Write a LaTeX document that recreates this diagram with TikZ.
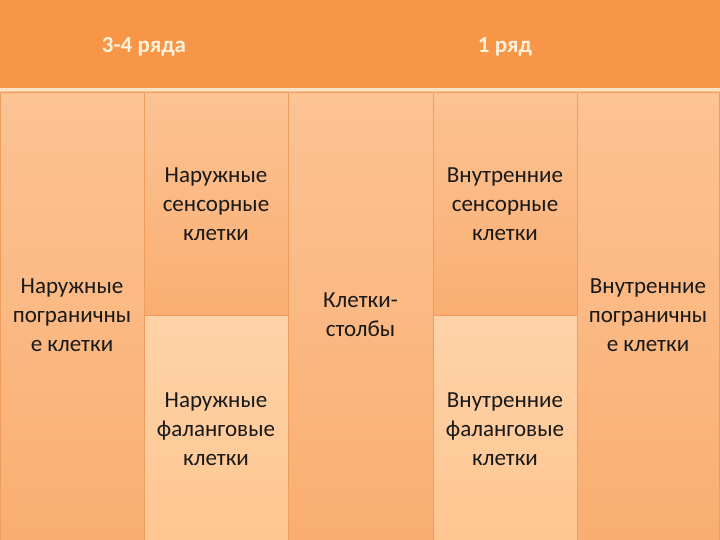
\documentclass[tikz,border=0pt]{standalone}
\usepackage{fontspec}
\setmainfont{Carlito}
\definecolor{hdr}{HTML}{F79646}
\definecolor{colTop}{HTML}{FCC394}
\definecolor{colBot}{HTML}{FAAE71}
\definecolor{lowTop}{HTML}{FED2A8}
\definecolor{lowBot}{HTML}{FEC691}
\definecolor{edge}{HTML}{EE9D5C}
\definecolor{sep}{HTML}{FDE3C6}
\definecolor{hdrtxt}{HTML}{FFF1DC}
\begin{document}
\begin{tikzpicture}[x=1pt,y=-1pt,
  cellbox/.style={draw=edge,line width=0.6pt,top color=colTop,bottom color=colBot},
  lowbox/.style={draw=edge,line width=0.6pt,top color=lowTop,bottom color=lowBot},
  celltext/.style={align=center,font=\fontsize{23}{29}\selectfont,text=black!90},
  hdrtext/.style={font=\bfseries\fontsize{23}{27}\selectfont,text=hdrtxt}]
\useasboundingbox (0,0) rectangle (720,540);
\fill[sep] (0,0) rectangle (720,92);
\fill[hdr] (0,0) rectangle (720,88.5);
% columns
\path[cellbox] (0.5,92) rectangle (144,540);
\path[cellbox] (144,92) rectangle (288.5,315);
\path[lowbox] (144,315) rectangle (288.5,540);
\path[cellbox] (288.5,92) rectangle (433,540);
\path[cellbox] (433,92) rectangle (577,315);
\path[lowbox] (433,315) rectangle (577,540);
\path[cellbox] (577,92) rectangle (719.5,540);
% header texts
\node[hdrtext] (h1) at (144,47) {3-4 ряда};
\node[hdrtext] (h2) at (505,47) {1 ряд};
% cell texts
\node[celltext] (c1) at (72,315) {Наружные\\пограничны\\е клетки};
\node[celltext] (c2) at (216,204) {Наружные\\сенсорные\\клетки};
\node[celltext] (c3) at (216,429) {Наружные\\фаланговые\\клетки};
\node[celltext] (c4) at (360.5,315) {Клетки-\\столбы};
\node[celltext] (c5) at (505,204) {Внутренние\\сенсорные\\клетки};
\node[celltext] (c6) at (505,429) {Внутренние\\фаланговые\\клетки};
\node[celltext] (c7) at (648,315) {Внутренние\\пограничны\\е клетки};
\end{tikzpicture}
\end{document}
